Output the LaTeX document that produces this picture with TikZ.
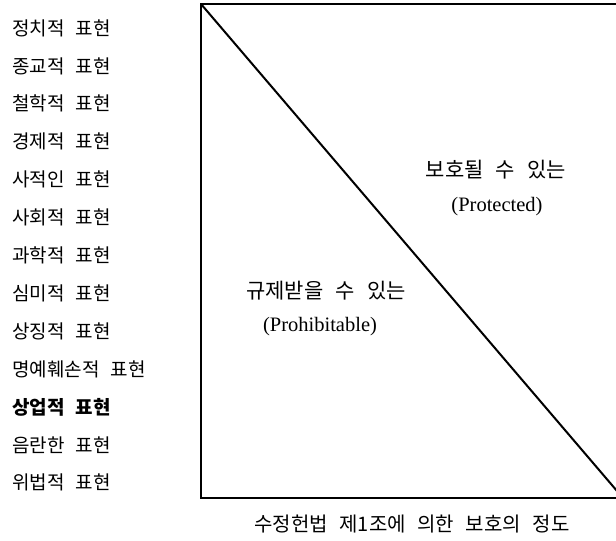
\documentclass[tikz,border=0pt]{standalone}
\usepackage{fontspec}
\newfontfamily\kr{Noto Sans CJK KR}[WordSpace=2.0]
\newfontfamily\krw{Noto Sans CJK KR}[WordSpace=2.6]
\newfontfamily\engserif{Liberation Serif}
\begin{document}
\begin{tikzpicture}[x=1pt,y=-1pt,
  lab/.style={anchor=west,inner sep=0pt,font=\kr\fontsize{19}{21}\selectfont},
  mid/.style={inner sep=0pt,font=\krw\fontsize{21}{23}\selectfont},
  eng/.style={inner sep=0pt,font=\engserif\fontsize{20.5}{23}\selectfont},
  capt/.style={inner sep=0pt,font=\kr\fontsize{20}{22}\selectfont},
  frame/.style={line width=2.5pt,line cap=rect},
  diag/.style={line width=2pt}]
\clip (0,0) rectangle (616,541);
\fill[white] (0,0) rectangle (616,541);
% left labels
\node[lab] (l1) at (12,28.0) {정치적 표현};
\node[lab] (l2) at (12,65.9) {종교적 표현};
\node[lab] (l3) at (12,103.8) {철학적 표현};
\node[lab] (l4) at (12,141.7) {경제적 표현};
\node[lab] (l5) at (12,179.6) {사적인 표현};
\node[lab] (l6) at (12,217.5) {사회적 표현};
\node[lab] (l7) at (12,255.4) {과학적 표현};
\node[lab] (l8) at (12,293.3) {심미적 표현};
\node[lab] (l9) at (12,331.2) {상징적 표현};
\node[lab] (l10) at (12,369.1) {명예훼손적 표현};
\node[lab] (l11) at (12,407.0) {\bfseries 상업적 표현};
\node[lab] (l12) at (12,444.9) {음란한 표현};
\node[lab] (l13) at (12,482.8) {위법적 표현};
% frame
\coordinate (tl) at (201,4);
\coordinate (bl) at (201,498);
\coordinate (tr) at (630,4);
\coordinate (br) at (630,498);
\coordinate (de) at (623,498);
\draw[frame] (tr) -- (tl) -- (bl) -- (br);
\draw[diag] (tl) -- (de);
% region labels
\node[mid] (p1) at (496,170) {보호될 수 있는};
\node[eng] (p2) at (497,207) {(Protected)};
\node[mid] (h1) at (326,291) {규제받을 수 있는};
\node[eng] (h2) at (320,327) {(Prohibitable)};
% caption
\node[capt] (cap) at (412,524) {수정헌법 제1조에 의한 보호의 정도};
\end{tikzpicture}
\end{document}
